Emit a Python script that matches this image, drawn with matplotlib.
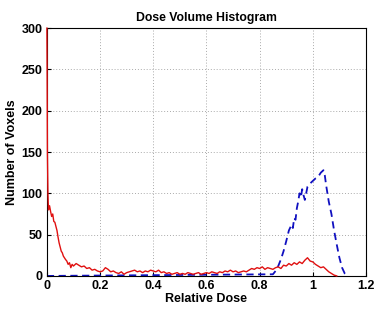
import matplotlib
matplotlib.use("Agg")
import matplotlib.pyplot as plt

plt.rcParams['font.family'] = ['Liberation Sans', 'DejaVu Sans']

red_x = [0, 0.001, 0.002, 0.004, 0.006, 0.01, 0.014, 0.018, 0.022, 0.026, 0.03, 0.034, 0.038,
         0.042, 0.046, 0.05, 0.054, 0.058, 0.062, 0.066, 0.07, 0.075, 0.08, 0.085, 0.09, 0.095,
         0.10, 0.11, 0.12, 0.13, 0.14, 0.15, 0.16, 0.17, 0.18, 0.19, 0.20, 0.21, 0.22, 0.23,
         0.24, 0.25, 0.26, 0.27, 0.28, 0.29, 0.30, 0.31, 0.32, 0.33, 0.34, 0.35, 0.36, 0.37,
         0.38, 0.39, 0.40, 0.41, 0.42, 0.43, 0.44, 0.45, 0.46, 0.47, 0.48, 0.49, 0.50, 0.51,
         0.52, 0.53, 0.54, 0.55, 0.56, 0.57, 0.58, 0.59, 0.60, 0.61, 0.62, 0.63, 0.64, 0.65,
         0.66, 0.67, 0.68, 0.69, 0.70, 0.71, 0.72, 0.73, 0.74, 0.75, 0.76, 0.77, 0.78, 0.79,
         0.80, 0.81, 0.82, 0.83, 0.84, 0.85, 0.86, 0.87, 0.88, 0.89, 0.90, 0.91, 0.92, 0.93,
         0.94, 0.95, 0.96, 0.97, 0.98, 0.99, 1.00, 1.01, 1.02, 1.03, 1.04, 1.05, 1.06, 1.07,
         1.08, 1.09]
red_y = [300, 240, 150, 100, 80, 85, 78, 72, 75, 66, 65, 60, 55,
         47, 40, 35, 30, 28, 24, 22, 20, 18, 14, 16, 10, 14,
         12, 15, 13, 11, 12, 9, 10, 7, 8, 6, 5, 6, 10, 8,
         5, 6, 4, 3, 5, 2, 4, 5, 6, 7, 5, 6, 4, 6,
         5, 7, 6, 5, 7, 4, 5, 3, 4, 2, 3, 4, 2, 3,
         2, 4, 3, 2, 3, 4, 2, 3, 4, 3, 5, 4, 3, 5,
         4, 6, 5, 7, 5, 6, 4, 5, 6, 5, 7, 9, 8, 10,
         9, 11, 8, 10, 9, 8, 10, 11, 9, 13, 12, 15, 13, 16,
         14, 17, 15, 19, 22, 18, 17, 14, 12, 10, 11, 8, 5, 3,
         1, 0]

blue_x = [0, 0.85, 0.86, 0.87, 0.88, 0.89, 0.90, 0.91, 0.92, 0.925, 0.93, 0.935, 0.94, 0.945,
          0.95, 0.955, 0.96, 0.965, 0.97, 0.975, 0.98, 0.99, 1.00, 1.01, 1.02, 1.03, 1.04,
          1.045, 1.05, 1.06, 1.07, 1.08, 1.09, 1.10, 1.11, 1.12, 1.13]
blue_y = [0, 2, 6, 12, 20, 30, 42, 55, 62, 58, 70, 68, 82, 90,
          100, 95, 105, 98, 92, 100, 108, 112, 115, 118, 120, 125, 128,
          122, 110, 90, 75, 55, 38, 22, 10, 3, 0]

x_ticks = [0, 0.2, 0.4, 0.6, 0.8, 1.0, 1.2]
x_tick_labels = ['0', '0.2', '0.4', '0.6', '0.8', '1', '1.2']
y_ticks = [0, 50, 100, 150, 200, 250, 300]

fig = plt.figure(figsize=(3.75, 3.09), dpi=100)
ax = fig.add_axes([0.125, 0.107, 0.851, 0.802])

ax.plot(blue_x, blue_y, color='#1010c0', linestyle=(0, (4, 2.5)), linewidth=1.3)
ax.plot(red_x, red_y, color='#e01010', linewidth=1.0, clip_on=False, zorder=5)

ax.set_xlim(0, 1.2)
ax.set_ylim(0, 300)
ax.set_xticks(x_ticks)
ax.set_xticklabels(x_tick_labels)
ax.set_yticks(y_ticks)
ax.grid(True, linestyle=(0, (1, 2)), color='#aaaaaa', linewidth=0.7)
ax.tick_params(direction='in', length=3, labelsize=9, pad=3)
for lbl in ax.get_xticklabels() + ax.get_yticklabels():
    lbl.set_fontweight('bold')
for s in ax.spines.values():
    s.set_linewidth(0.8)

ax.set_title('Dose Volume Histogram', fontsize=8.8, fontweight='bold', pad=5)
ax.set_xlabel('Relative Dose', fontsize=9, fontweight='bold', labelpad=1)
ax.set_ylabel('Number of Voxels', fontsize=9, fontweight='bold', labelpad=3)

fig.savefig('out.png', dpi=100)
